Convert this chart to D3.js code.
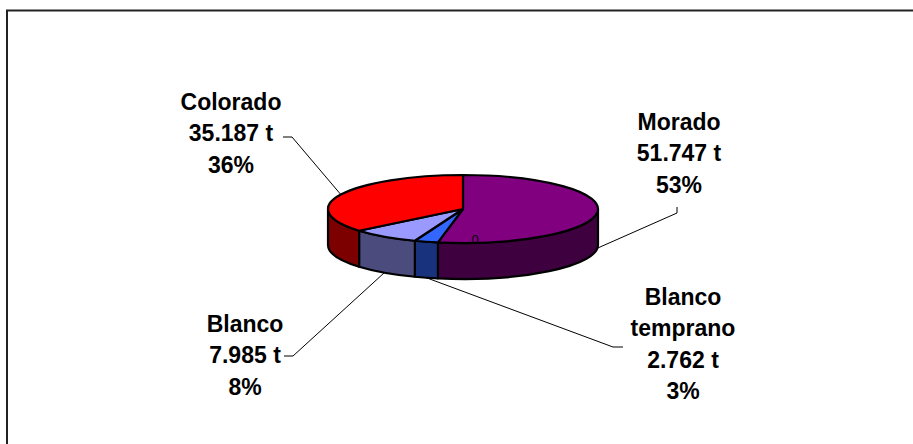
<!DOCTYPE html>
<html>
<head>
<meta charset="utf-8">
<script src="https://cdn.jsdelivr.net/npm/d3@7"></script>
<style>
  body { margin: 0; background: #fff; }
  svg { display: block; }
  text { font-family: Arial, "Liberation Sans", sans-serif; }
</style>
</head>
<body>
<div id="container"></div>
<script>
// data
const categories = ['Morado', 'Blanco temprano', 'Blanco', 'Colorado'];
const values = [51747, 2762, 7985, 35187];
const colors = ['#800080', '#3366ff', '#9999ff', '#ff0000'];

// label layout (text centre, first baseline, leader start + elbow)
const labelPos = [
  {x: 679, y: 130, lx: 677, ly: 207, ex: 677, ey: 213},
  {x: 683, y: 305, lx: 623, ly: 347, ex: 613, ey: 347},
  {x: 245, y: 332, lx: 284, ly: 356, ex: 293, ey: 356},
  {x: 231, y: 110, lx: 283, ly: 137, ex: 292, ey: 137}
];

const width = 913, height = 444;
const cx = 463, cy = 209, rx = 135, ry = 34, depth = 36;
const lineH = 31.3;

const svg = d3.select('#container')
  .append('svg')
  .attr('width', width)
  .attr('height', height);

// chart frame (runs off right / bottom)
svg.append('rect')
  .attr('x', 7).attr('y', 10.5)
  .attr('width', 1000).attr('height', 1000)
  .attr('fill', 'none')
  .attr('stroke', '#222')
  .attr('stroke-width', 2);

// unit circle -> ellipse
const xScale = d3.scaleLinear().domain([-1, 1]).range([cx - rx, cx + rx]);
const yScale = d3.scaleLinear().domain([-1, 1]).range([cy - ry, cy + ry]);
const px = a => xScale(Math.sin(a));
const py = a => yScale(-Math.cos(a));

const pie = d3.pie().sort(null).value(d => d.value);
const data = categories.map((c, i) => ({name: c, value: values[i], color: colors[i]}));
const arcs = pie(data);
const total = d3.sum(values);

const fmtT = d3.formatLocale({decimal: ',', thousands: '.', grouping: [3], currency: ['', '']}).format(',');

// 1. side walls (front half only)
const g = svg.append('g');
arcs.forEach(d => {
  const s = Math.max(d.startAngle, Math.PI / 2);
  const e = Math.min(d.endAngle, Math.PI * 3 / 2);
  if (e <= s) return;
  const large = e - s > Math.PI ? 1 : 0;
  const p = `M${px(s)},${py(s)}` +
    `A${rx},${ry} 0 ${large} 1 ${px(e)},${py(e)}` +
    `L${px(e)},${py(e) + depth}` +
    `A${rx},${ry} 0 ${large} 0 ${px(s)},${py(s) + depth}Z`;
  g.append('path')
    .attr('d', p)
    .attr('fill', d3.color(d.data.color).darker(2))
    .attr('stroke', '#000')
    .attr('stroke-width', 2.2)
    .attr('stroke-linejoin', 'round');
});

// 2. top faces
arcs.forEach(d => {
  const s = d.startAngle, e = d.endAngle;
  const large = e - s > Math.PI ? 1 : 0;
  const p = `M${cx},${cy}L${px(s)},${py(s)}` +
    `A${rx},${ry} 0 ${large} 1 ${px(e)},${py(e)}Z`;
  g.append('path')
    .attr('d', p)
    .attr('fill', d.data.color)
    .attr('stroke', '#000')
    .attr('stroke-width', 2.2)
    .attr('stroke-linejoin', 'round');
});

// stray zero label on the top face
svg.append('text')
  .attr('x', 475).attr('y', 244)
  .attr('text-anchor', 'middle')
  .attr('font-size', 13)
  .text('0');

// 3. leader lines + labels
arcs.forEach((d, i) => {
  const pos = labelPos[i];
  const mid = (d.startAngle + d.endAngle) / 2;
  const front = Math.cos(mid) < 0;
  const tx = px(mid), ty = py(mid) + (front ? depth : 0);

  svg.append('path')
    .attr('d', `M${pos.lx},${pos.ly}L${pos.ex},${pos.ey}L${tx},${ty}`)
    .attr('fill', 'none')
    .attr('stroke', '#000')
    .attr('stroke-width', 1);

  const lines = d.data.name.split(' ')
    .concat([`${fmtT(d.data.value)} t`, `${Math.round(d.data.value / total * 100)}%`]);

  const t = svg.append('text')
    .attr('text-anchor', 'middle')
    .attr('font-size', 23)
    .attr('font-weight', 'bold');
  lines.forEach((l, k) => {
    t.append('tspan')
      .attr('x', pos.x)
      .attr('y', pos.y + k * lineH)
      .text(l);
  });
});
</script>
</body>
</html>
